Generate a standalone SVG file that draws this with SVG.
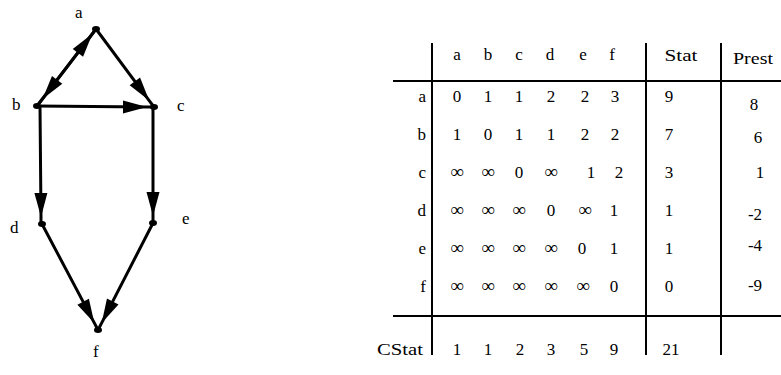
<svg xmlns="http://www.w3.org/2000/svg" width="781" height="375" viewBox="0 0 781 375">
  <style>
    .lbl { font-family: "Liberation Serif", "Times New Roman", serif; font-size: 17px; fill: #000; }
    .cell { font-family: "Liberation Serif", "Times New Roman", serif; font-size: 17px; fill: #000; text-anchor: middle; }
    .inf { font-size: 19px; }
    .rowh { text-anchor: end; }
    .edge { fill: none; stroke: #000; stroke-width: 3; marker-mid: url(#head); }
    .dot { fill: #000; }
    .rule { stroke: #000; stroke-width: 2; }
  </style>
  <defs>
    <!-- long narrow arrowhead; tip sits on the mid vertex of each edge path -->
    <marker id="head" markerUnits="userSpaceOnUse" markerWidth="30" markerHeight="16" viewBox="-26 -8 30 16" refX="0" refY="0" orient="auto" overflow="visible">
      <polygon points="0,0 -24,-6.5 -24,6.5" fill="#000"/>
    </marker>
  </defs>

  <rect width="781" height="375" fill="#fff"/>

  <!-- graph edges: M from L arrow-tip L to -->
  <g id="edges">
    <path class="edge" d="M37,106 L92.4,33.8 L96,29"/>
    <path class="edge" d="M96,29 L42.5,98.9 L37,106"/>
    <path class="edge" d="M96,29 L149.2,100.6 L154,107"/>
    <path class="edge" d="M37,106 L147,107 L154,107"/>
    <path class="edge" d="M40,106 L41,217 L41,224"/>
    <path class="edge" d="M153,107 L153,216 L153,223"/>
    <path class="edge" d="M42,224 L94.3,322.9 L98,330"/>
    <path class="edge" d="M153,223 L101.7,322.9 L98,330"/>
  </g>

  <!-- graph nodes -->
  <g id="node-a">
    <ellipse class="dot" cx="96" cy="29" rx="4" ry="3"/>
    <text class="lbl" x="75" y="18">a</text>
  </g>
  <g id="node-b">
    <ellipse class="dot" cx="37" cy="106" rx="4" ry="3"/>
    <text class="lbl" x="12" y="110">b</text>
  </g>
  <g id="node-c">
    <ellipse class="dot" cx="154" cy="107" rx="4" ry="3"/>
    <text class="lbl" x="177" y="111">c</text>
  </g>
  <g id="node-d">
    <ellipse class="dot" cx="42" cy="224" rx="4" ry="3"/>
    <text class="lbl" x="10" y="233">d</text>
  </g>
  <g id="node-e">
    <ellipse class="dot" cx="153" cy="223" rx="4" ry="3"/>
    <text class="lbl" x="182" y="224">e</text>
  </g>
  <g id="node-f">
    <ellipse class="dot" cx="98" cy="330" rx="4" ry="3"/>
    <text class="lbl" x="93" y="357">f</text>
  </g>

  <!-- distance table -->
  <g id="table">
    <line class="rule" x1="432" y1="43" x2="432" y2="355"/>
    <line class="rule" x1="646" y1="43" x2="646" y2="355"/>
    <line class="rule" x1="721" y1="43" x2="721" y2="355"/>
    <line class="rule" x1="393" y1="81" x2="781" y2="81"/>
    <line class="rule" x1="393" y1="316" x2="781" y2="316"/>

    <!-- header -->
    <text class="cell" x="457" y="60">a</text>
    <text class="cell" x="488" y="60">b</text>
    <text class="cell" x="519" y="60">c</text>
    <text class="cell" x="550" y="60">d</text>
    <text class="cell" x="583" y="60">e</text>
    <text class="cell" x="612" y="60">f</text>
    <text class="cell" x="681" y="61" textLength="33" lengthAdjust="spacingAndGlyphs">Stat</text>
    <text class="cell" x="753" y="64" textLength="40" lengthAdjust="spacingAndGlyphs">Prest</text>

    <!-- row labels -->
    <text class="cell rowh" x="426" y="102">a</text>
    <text class="cell rowh" x="426" y="140">b</text>
    <text class="cell rowh" x="426" y="178">c</text>
    <text class="cell rowh" x="426" y="216">d</text>
    <text class="cell rowh" x="426" y="254">e</text>
    <text class="cell rowh" x="426" y="292">f</text>
    <text class="cell rowh" x="423" y="355" textLength="46" lengthAdjust="spacingAndGlyphs">CStat</text>

    <!-- row a -->
    <text class="cell" x="457" y="102">0</text>
    <text class="cell" x="488" y="102">1</text>
    <text class="cell" x="519" y="102">1</text>
    <text class="cell" x="551" y="102">2</text>
    <text class="cell" x="585" y="102">2</text>
    <text class="cell" x="615" y="102">3</text>
    <text class="cell" x="669" y="102">9</text>
    <text class="cell" x="754" y="110">8</text>

    <!-- row b -->
    <text class="cell" x="457" y="140">1</text>
    <text class="cell" x="488" y="140">0</text>
    <text class="cell" x="519" y="140">1</text>
    <text class="cell" x="551" y="140">1</text>
    <text class="cell" x="585" y="140">2</text>
    <text class="cell" x="615" y="140">2</text>
    <text class="cell" x="669" y="140">7</text>
    <text class="cell" x="758" y="143">6</text>

    <!-- row c -->
    <text class="cell inf" x="457" y="178">∞</text>
    <text class="cell inf" x="488" y="178">∞</text>
    <text class="cell" x="519" y="178">0</text>
    <text class="cell inf" x="551" y="178">∞</text>
    <text class="cell" x="591" y="178">1</text>
    <text class="cell" x="619" y="178">2</text>
    <text class="cell" x="669" y="178">3</text>
    <text class="cell" x="760" y="178">1</text>

    <!-- row d -->
    <text class="cell inf" x="457" y="216">∞</text>
    <text class="cell inf" x="488" y="216">∞</text>
    <text class="cell inf" x="519" y="216">∞</text>
    <text class="cell" x="551" y="216">0</text>
    <text class="cell inf" x="585" y="216">∞</text>
    <text class="cell" x="614" y="216">1</text>
    <text class="cell" x="669" y="216">1</text>
    <text class="cell" x="755" y="220">-2</text>

    <!-- row e -->
    <text class="cell inf" x="457" y="254">∞</text>
    <text class="cell inf" x="488" y="254">∞</text>
    <text class="cell inf" x="519" y="254">∞</text>
    <text class="cell inf" x="551" y="254">∞</text>
    <text class="cell" x="582" y="254">0</text>
    <text class="cell" x="614" y="254">1</text>
    <text class="cell" x="669" y="254">1</text>
    <text class="cell" x="755" y="251">-4</text>

    <!-- row f -->
    <text class="cell inf" x="457" y="292">∞</text>
    <text class="cell inf" x="488" y="292">∞</text>
    <text class="cell inf" x="519" y="292">∞</text>
    <text class="cell inf" x="551" y="292">∞</text>
    <text class="cell inf" x="583" y="292">∞</text>
    <text class="cell" x="614" y="292">0</text>
    <text class="cell" x="669" y="292">0</text>
    <text class="cell" x="755" y="291">-9</text>

    <!-- column totals -->
    <text class="cell" x="457" y="355">1</text>
    <text class="cell" x="488" y="355">1</text>
    <text class="cell" x="520" y="355">2</text>
    <text class="cell" x="551" y="355">3</text>
    <text class="cell" x="584" y="355">5</text>
    <text class="cell" x="614" y="355">9</text>
    <text class="cell" x="671" y="355">21</text>
  </g>
</svg>
